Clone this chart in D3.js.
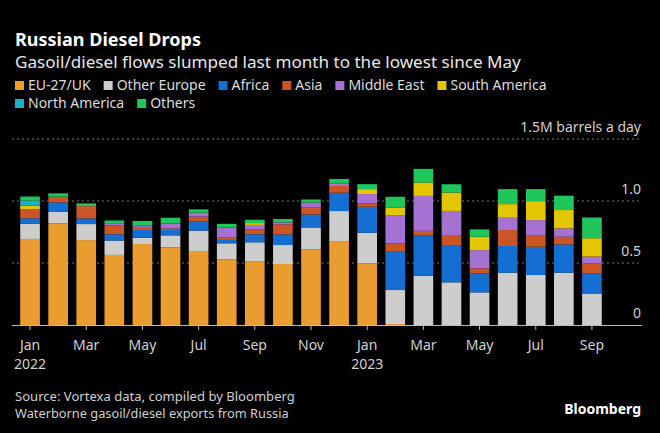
<!DOCTYPE html>
<html>
<head>
<meta charset="utf-8">
<script src="https://cdn.jsdelivr.net/npm/d3@7"></script>
<style>
  html, body { margin: 0; padding: 0; background: #000; }
  svg { display: block; }
  text { font-family: "Noto Sans", "Open Sans", sans-serif; }
</style>
</head>
<body>
<svg id="chart" width="660" height="433"></svg>
<script>
// ---------------- DATA ----------------
const months = ["2022-01","2022-02","2022-03","2022-04","2022-05","2022-06","2022-07","2022-08","2022-09","2022-10","2022-11","2022-12",
                "2023-01","2023-02","2023-03","2023-04","2023-05","2023-06","2023-07","2023-08","2023-09"];
const tickMonths = ["2022-01","2022-03","2022-05","2022-07","2022-09","2022-11","2023-01","2023-03","2023-05","2023-07","2023-09"];
const tickLabels = ["Jan","Mar","May","Jul","Sep","Nov","Jan","Mar","May","Jul","Sep"];
const yearLabels = { "2022-01": "2022", "2023-01": "2023" };
const yTicks = [0, 0.5, 1.0, 1.5];
const yTickLabels = ["0", "0.5", "1.0", "1.5M barrels a day"];

const seriesNames = ["EU-27/UK","Other Europe","Africa","Asia","Middle East","South America","North America","Others"];
const euUK         = [0.694,0.820,0.685,0.565,0.653,0.626,0.597,0.530,0.511,0.492,0.610,0.677,0.497,0.008,0,0,0,0,0,0,0];
const otherEurope  = [0.121,0.094,0.129,0.116,0.051,0.097,0.164,0.129,0.156,0.153,0.177,0.242,0.247,0.274,0.398,0.344,0.263,0.422,0.403,0.422,0.250];
const africa       = [0.046,0.075,0.046,0.051,0.062,0.043,0.073,0.027,0.065,0.086,0.105,0.148,0.210,0.309,0.323,0.301,0.153,0.215,0.228,0.228,0.167];
const asia         = [0.073,0.046,0.099,0.070,0.025,0.013,0.040,0.022,0.040,0.081,0.056,0.054,0.027,0.067,0.038,0.081,0.040,0.129,0.089,0.062,0.081];
const middleEast   = [0,0,0,0.019,0.013,0.040,0.032,0.078,0.035,0.016,0.040,0.022,0.075,0.228,0.282,0.194,0.148,0.099,0.126,0.067,0.054];
const southAmerica = [0.030,0,0,0,0,0,0,0,0.015,0,0,0,0.040,0.062,0.108,0.148,0.108,0.110,0.153,0.148,0.148];
const northAmerica = [0.040,0,0,0,0,0,0,0,0,0,0,0,0,0,0,0,0,0,0,0,0];
const others       = [0.032,0.027,0.022,0.022,0.035,0.046,0.027,0.030,0.027,0.027,0.024,0.035,0.040,0.086,0.110,0.067,0.059,0.121,0.097,0.116,0.167];
const seriesValues = [euUK, otherEurope, africa, asia, middleEast, southAmerica, northAmerica, others];
const colors = ["#e99d31","#cdcdcd","#156fd3","#cc5526","#a672d2","#e4c600","#17b1c8","#1fc65a"];

// ---------------- BUILD ----------------
const table = months.map((m, i) => {
  const row = { month: m };
  seriesNames.forEach((s, j) => row[s] = seriesValues[j][i]);
  return row;
});

const svg = d3.select("#chart");
svg.append("rect").attr("width", 660).attr("height", 433).attr("fill", "#000");

const x = d3.scaleBand().domain(months).range([16, 606]).paddingInner(0.3).paddingOuter(0.15);
const y = d3.scaleLinear().domain([0, 1.5]).range([325, 139]);

function fit(sel, w) {
  const n = sel.node();
  let fs = parseFloat(sel.attr("font-size"));
  const len = n.getComputedTextLength();
  if (len > 0) sel.attr("font-size", (fs * w / len).toFixed(2));
}

// Title & subtitle
const title = svg.append("text").attr("x", 15).attr("y", 46).attr("fill", "#fff")
  .attr("font-size", 19).attr("font-weight", 700).text("Russian Diesel Drops");
fit(title, 186);
const sub = svg.append("text").attr("x", 15).attr("y", 68).attr("fill", "#e6e6e6")
  .attr("font-size", 17).text("Gasoil/diesel flows slumped last month to the lowest since May");
fit(sub, 506);

// Legend
const legendRows = [[0,1,2,3,4,5],[6,7]];
legendRows.forEach((row, r) => {
  let lx = 15;
  const ly = 90 + r * 18;
  row.forEach(j => {
    const g = svg.append("g");
    g.append("rect").attr("x", lx).attr("y", ly - 9).attr("width", 9).attr("height", 9).attr("fill", colors[j]);
    const t = g.append("text").attr("x", lx + 13).attr("y", ly).attr("fill", "#dcdcdc")
      .attr("font-size", 14).text(seriesNames[j]);
    lx += 13 + t.node().getComputedTextLength() + 13;
  });
});

// Gridlines
const grid = svg.append("g");
yTicks.filter(v => v > 0).forEach(v => {
  grid.append("line").attr("x1", 12).attr("x2", 641).attr("y1", y(v)).attr("y2", y(v))
    .attr("stroke", "#777").attr("stroke-width", 1).attr("stroke-dasharray", "2,3");
});

// Stacked bars
const stack = d3.stack().keys(seriesNames);
const layers = stack(table);
svg.append("g").selectAll("g").data(layers).join("g")
  .attr("fill", (d, i) => colors[i])
  .selectAll("rect").data(d => d).join("rect")
  .attr("x", d => x(d.data.month))
  .attr("width", x.bandwidth())
  .attr("y", d => y(d[1]))
  .attr("height", d => Math.max(0, y(d[0]) - y(d[1])));

// Y labels (right, above gridlines)
yTicks.forEach((v, i) => {
  svg.append("text").attr("x", 641).attr("y", y(v) - 7).attr("text-anchor", "end")
    .attr("fill", "#d0d0d0").attr("font-size", 14).text(yTickLabels[i]);
});

// X axis
const xAxis = d3.axisBottom(x).tickValues(tickMonths).tickSize(5).tickPadding(10)
  .tickFormat((d) => tickLabels[tickMonths.indexOf(d)]);
const ax = svg.append("g").attr("transform", "translate(0,325)").call(xAxis);
ax.select(".domain").remove();
ax.selectAll(".tick line").attr("stroke", "#bbb");
ax.selectAll(".tick text").attr("fill", "#d0d0d0").attr("font-size", 14)
  .attr("font-family", "'Noto Sans', sans-serif");
ax.selectAll(".tick").filter(d => yearLabels[d]).append("text")
  .attr("y", 34).attr("dy", "0.71em").attr("fill", "#d0d0d0").attr("font-size", 14)
  .attr("font-family", "'Noto Sans', sans-serif").attr("text-anchor", "middle")
  .text(d => yearLabels[d]);
svg.append("line").attr("x1", 12).attr("x2", 642).attr("y1", 325.5).attr("y2", 325.5)
  .attr("stroke", "#bbb").attr("stroke-width", 1);

// Footer
const s1 = svg.append("text").attr("x", 15).attr("y", 401).attr("fill", "#cfcfcf").attr("font-size", 13)
  .text("Source: Vortexa data, compiled by Bloomberg");
fit(s1, 280);
const s2 = svg.append("text").attr("x", 15).attr("y", 418).attr("fill", "#cfcfcf").attr("font-size", 13)
  .text("Waterborne gasoil/diesel exports from Russia");
fit(s2, 274);
const bb = svg.append("text").attr("x", 641).attr("y", 414).attr("text-anchor", "end").attr("fill", "#fff")
  .attr("font-size", 14).attr("font-weight", 700).text("Bloomberg");
</script>
</body>
</html>
